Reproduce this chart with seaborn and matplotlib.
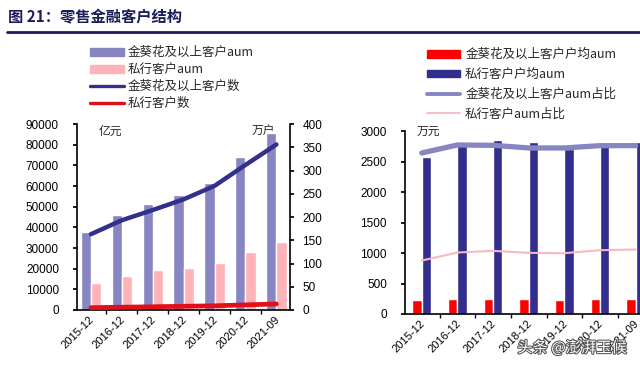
import matplotlib
matplotlib.use("Agg")
import matplotlib.pyplot as plt
import matplotlib.patheffects as pe
import matplotlib.transforms as mtransforms
from matplotlib.lines import Line2D
from matplotlib.patches import Patch
import seaborn as sns
import numpy as np
import pandas as pd

periods = ['2015-12', '2016-12', '2017-12', '2018-12', '2019-12', '2020-12', '2021-09']

# 左图：AUM（亿元，左轴）与客户数（万户，右轴）
aum_jkh = [37600, 45800, 51100, 55500, 61300, 73900, 85800]
aum_private = [12900, 16600, 19200, 20500, 22600, 27900, 32700]
cust_jkh = [163, 193, 215, 238, 267, 312, 356]
cust_private = [5, 6, 7, 8, 9, 11, 13]

# 右图：户均AUM（万元）与占比曲线（按图上刻度读数）
avg_jkh = [225, 246, 246, 241, 235, 246, 252]
avg_private = [2574, 2815, 2848, 2820, 2711, 2798, 2815]
share_jkh = [2640, 2771, 2765, 2722, 2722, 2760, 2760]
share_private = [876, 1008, 1035, 1002, 997, 1046, 1057]

left_names = ['金葵花及以上客户aum', '私行客户aum', '金葵花及以上客户数', '私行客户数']
right_names = ['金葵花及以上客户户均aum', '私行客户户均aum', '金葵花及以上客户aum占比', '私行客户aum占比']

c_lilac = '#8785c2'
c_pink = '#ffb3b8'
c_navy = '#33308c'
c_red = '#e0101a'
c_red_bar = '#ff0000'
c_navy_bar = '#322e8e'
c_pink_line = '#f8b8c0'

sns.set_theme(style='white')
plt.rcParams['font.family'] = ['Liberation Sans', 'Noto Sans CJK SC']
plt.rcParams['axes.unicode_minus'] = False

fig = plt.figure(figsize=(6.4, 3.69), dpi=100)
W, H = 640, 369

def box(x0, y0, x1, y1):
    return [x0 / W, 1 - y1 / H, (x1 - x0) / W, (y1 - y0) / H]

tick_fs = 8.5
x = np.arange(len(periods))

def style_x(ax, lims):
    # 刻度线在类别之间，标签斜放
    ax.set_xticks(np.arange(-0.5, len(periods), 1), minor=True)
    ax.set_xlim(*lims)
    ax.tick_params(axis='x', which='major', labelsize=8, length=0, pad=3, colors='black')
    ax.tick_params(axis='x', which='minor', length=3, width=1, bottom=True, colors='black')
    shift = mtransforms.ScaledTranslation(-2 / 100, 0, fig.dpi_scale_trans)
    for lab in ax.get_xticklabels():
        lab.set_rotation(45)
        lab.set_ha('right')
        lab.set_rotation_mode('anchor')
        lab.set_transform(lab.get_transform() + shift)

# ---------------- 左图 ----------------
ax1 = fig.add_axes(box(77, 124, 290, 310))
left_df = pd.DataFrame({
    '期间': periods * 2,
    '系列': [left_names[0]] * 7 + [left_names[1]] * 7,
    '值': aum_jkh + aum_private,
})
sns.barplot(data=left_df, x='期间', y='值', hue='系列', palette=[c_lilac, c_pink],
            width=0.66, saturation=1, gap=0, legend=False, ax=ax1, zorder=2)
ax1b = ax1.twinx()
sns.lineplot(x=x, y=cust_jkh, color=c_navy, lw=3.2, ax=ax1b, zorder=3)
sns.lineplot(x=x, y=cust_private, color=c_red, lw=3.4, ax=ax1b, zorder=3)

ax1.set_ylim(0, 90000)
ax1.set_yticks(np.arange(0, 90001, 10000))
ax1b.set_ylim(0, 400)
ax1b.set_yticks(np.arange(0, 401, 50))
for a in (ax1, ax1b):
    a.set_xlabel('')
    a.set_ylabel('')
    a.spines['top'].set_visible(False)
    for s in a.spines.values():
        s.set_color('black')
        s.set_linewidth(1.2)
ax1.spines['right'].set_visible(False)
ax1b.spines['left'].set_visible(False)
ax1b.spines['bottom'].set_visible(False)
ax1.tick_params(axis='y', labelsize=tick_fs, length=3, direction='out', left=True, pad=10, colors='black')
ax1b.tick_params(axis='y', labelsize=tick_fs, length=3, direction='out', right=True, pad=6, colors='black')
style_x(ax1, (-0.45, 6.44))
ax1.text(0.1, 0.995, '亿元', transform=ax1.transAxes, fontsize=8.5, va='top',
         family=['Noto Sans CJK SC'], style='italic')
ax1.text(0.82, 0.995, '万户', transform=ax1.transAxes, fontsize=8.5, va='top',
         family=['Noto Sans CJK SC'], style='italic')

# ---------------- 右图 ----------------
ax2 = fig.add_axes(box(405, 131, 640, 314))
right_df = pd.DataFrame({
    '期间': periods * 2,
    '系列': [right_names[0]] * 7 + [right_names[1]] * 7,
    '值': avg_jkh + avg_private,
})
sns.barplot(data=right_df, x='期间', y='值', hue='系列', palette=[c_red_bar, c_navy_bar],
            width=0.52, saturation=1, gap=0, legend=False, ax=ax2, zorder=2)
sns.lineplot(x=x, y=share_jkh, color=c_lilac, lw=3.8, ax=ax2, zorder=3)
sns.lineplot(x=x, y=share_private, color=c_pink_line, lw=1.5, ax=ax2, zorder=3)
ax2.set_ylim(0, 3000)
ax2.set_yticks(np.arange(0, 3001, 500))
ax2.set_xlabel('')
ax2.set_ylabel('')
ax2.spines['top'].set_visible(False)
ax2.spines['right'].set_visible(False)
for s in ax2.spines.values():
    s.set_color('black')
    s.set_linewidth(1.2)
ax2.tick_params(axis='y', labelsize=tick_fs, length=3, direction='out', left=True, pad=10, colors='black')
style_x(ax2, (-0.47, 6.12))
ax2.text(0.05, 1.0, '万元', transform=ax2.transAxes, fontsize=8.5, va='center',
         family=['Noto Sans CJK SC'], style='italic')

# ---------------- 图例 ----------------
base_kw = dict(frameon=False, handleheight=0.6, borderpad=0, borderaxespad=0,
               prop={'family': ['Noto Sans CJK SC'], 'size': 9})
h_left = [Patch(color=c_lilac), Patch(color=c_pink),
          Line2D([], [], color=c_navy, lw=2.4), Line2D([], [], color=c_red, lw=2.4)]
fig.legend(h_left, left_names, loc='upper left', bbox_to_anchor=(90 / W, 1 - 46 / H),
           handlelength=2.7, handletextpad=0.3, labelspacing=0.33, **base_kw)
h_right = [Patch(color=c_red_bar), Patch(color=c_navy_bar),
           Line2D([], [], color=c_lilac, lw=2.8), Line2D([], [], color=c_pink_line, lw=1.3)]
fig.legend(h_right, right_names, loc='upper left', bbox_to_anchor=(427 / W, 1 - 48 / H),
           handlelength=2.65, handletextpad=0.4, labelspacing=0.55, **base_kw)

# ---------------- 标题 ----------------
fig.text(8 / W, 1 - 17 / H, '图 21：零售金融客户结构', fontsize=11, fontweight='bold',
         color='#1c1c5c', va='center', family=['Noto Sans CJK SC'])
fig.add_artist(Line2D([7 / W, 1], [1 - 32 / H, 1 - 32 / H], color='#1c1c5c', lw=2))

# 水印
fig.text(572 / W, 1 - 348 / H, '头条 @澎湃玉候', fontsize=11, color='white', ha='center',
         va='center', family=['Noto Sans CJK SC'],
         path_effects=[pe.withStroke(linewidth=1.5, foreground='#555555')])

fig.savefig('out.png', dpi=100)
